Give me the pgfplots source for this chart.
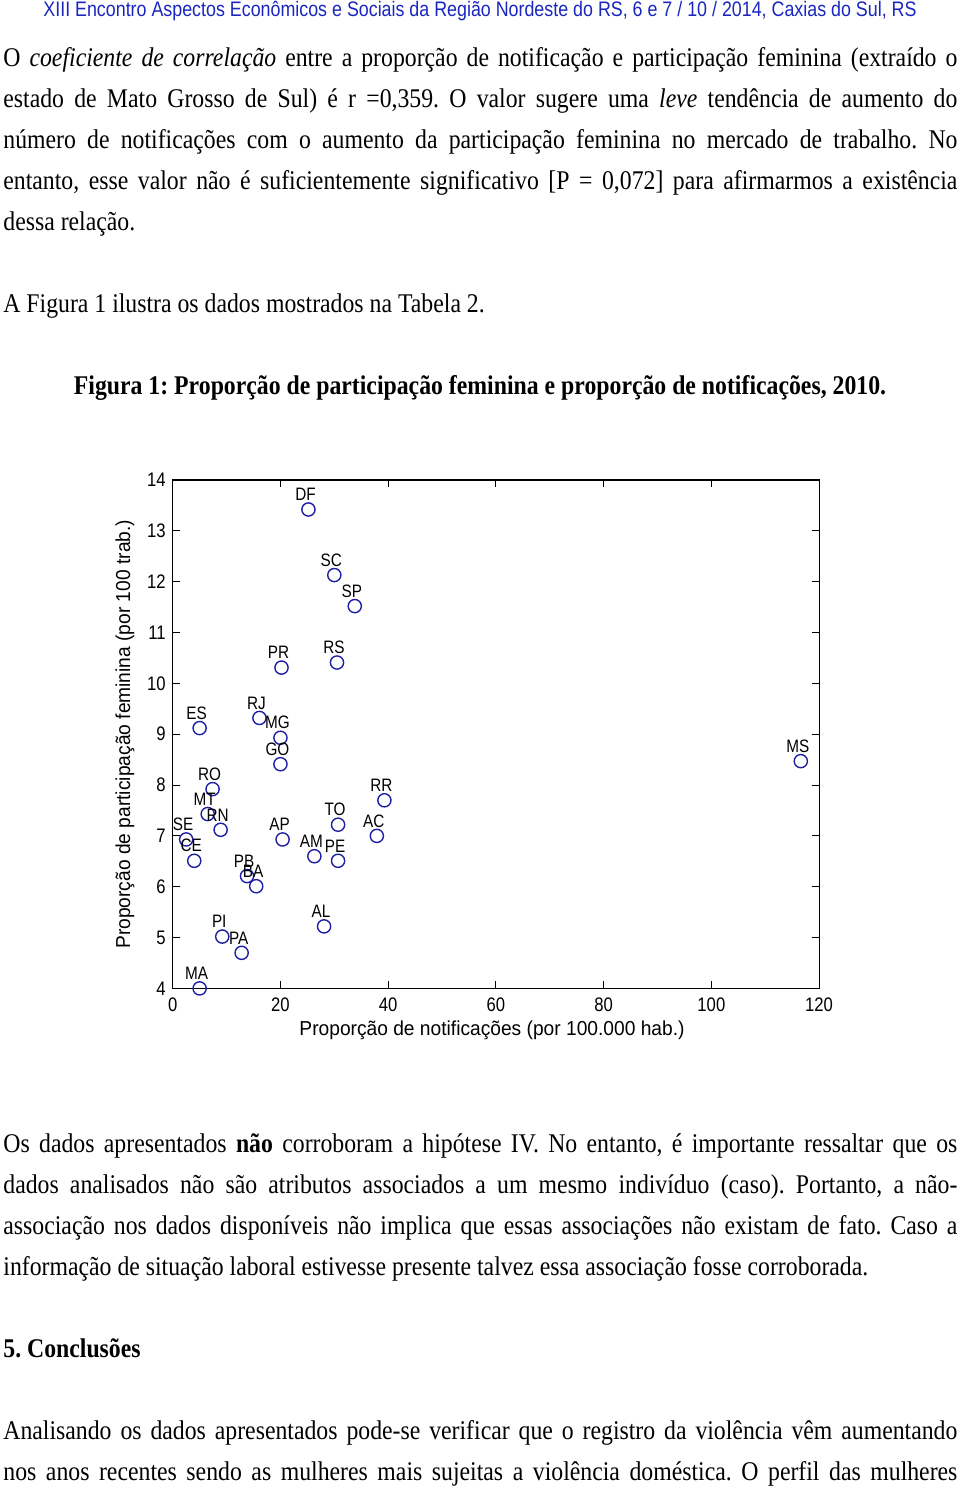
\documentclass[border=0pt]{standalone}
\usepackage{fontspec}
\setmainfont[FakeStretch=0.88]{Liberation Serif}
\newfontfamily\hdrfont[FakeStretch=0.85]{Liberation Sans}
\newfontfamily\tickfont[FakeStretch=0.85]{Liberation Sans}
\newfontfamily\labfont[FakeStretch=0.95]{Liberation Sans}
\usepackage{pgfplots}
\usepackage{pgfplotstable}
\pgfplotsset{compat=1.18}
\frenchspacing

\definecolor{hdrblue}{rgb}{0.1,0.15,0.75}
\definecolor{mblue}{rgb}{0.12,0.12,0.65}

% notificacoes (por 100.000 hab.) x participacao feminina (por 100 trab.)
\pgfplotstableread{
x     y     lab
25.2  13.42 DF
30.0  12.13 SC
33.8  11.52 SP
30.5  10.41 RS
20.2  10.31 PR
5.0   9.12  ES
16.1  9.32  RJ
20.0  8.93  MG
20.0  8.41  GO
7.4   7.92  RO
6.5   7.43  MT
8.9   7.12  RN
2.5   6.93  SE
4.0   6.51  CE
20.4  6.93  AP
26.3  6.60  AM
30.7  6.51  PE
30.7  7.22  TO
39.3  7.70  RR
37.9  7.00  AC
13.8  6.21  PB
15.5  6.01  BA
28.1  5.22  AL
9.2   5.02  PI
12.8  4.70  PA
5.0   4.00  MA
116.6 8.47  MS
}\ufdata

\newcommand{\body}{\fontsize{13.5}{16}\selectfont}
\newcommand{\jline}[3]{\node[anchor=base west, inner sep=0pt] at (#1,#2) {\body\makebox[477pt][s]{#3}};}
\newcommand{\lline}[3]{\node[anchor=base west, inner sep=0pt] at (#1,#2) {\body #3};}

\begin{document}
\begin{tikzpicture}
\begin{scope}[x=0.5pt, y=-0.5pt]
\path[use as bounding box] (0,0) rectangle (960,1486);
\node[anchor=base, inner sep=0pt, text=hdrblue] at (480,17)
  {\hdrfont\fontsize{10.5}{11}\selectfont XIII Encontro Aspectos Econômicos e Sociais da Região Nordeste do RS, 6 e 7 / 10 / 2014, Caxias do Sul, RS};
\jline{3}{67}{O \textit{coeficiente de correlação} entre a proporção de notificação e participação feminina (extraído o}
\jline{3}{108}{estado de Mato Grosso de Sul) é r =0,359. O valor sugere uma \textit{leve} tendência de aumento do}
\jline{3}{149}{número de notificações com o aumento da participação feminina no mercado de trabalho. No}
\jline{3}{190}{entanto, esse valor não é suficientemente significativo [P = 0,072] para afirmarmos a existência}
\lline{3}{231}{dessa relação.}
\lline{3}{313}{A Figura 1 ilustra os dados mostrados na Tabela 2.}
\node[anchor=base, inner sep=0pt] at (480,395)
  {\body\bfseries Figura 1: Proporção de participação feminina e proporção de notificações, 2010.};
\jline{3}{1152}{Os dados apresentados \textbf{não} corroboram a hipótese IV. No entanto, é importante ressaltar que os}
\jline{3}{1193}{dados analisados não são atributos associados a um mesmo indivíduo (caso). Portanto, a não-}
\jline{3}{1234}{associação nos dados disponíveis não implica que essas associações não existam de fato. Caso a}
\lline{3}{1275}{informação de situação laboral estivesse presente talvez essa associação fosse corroborada.}
\lline{3}{1357}{\textbf{5. Conclusões}}
\jline{3}{1439}{Analisando os dados apresentados pode-se verificar que o registro da violência vêm aumentando}
\jline{3}{1480}{nos anos recentes sendo as mulheres mais sujeitas a violência doméstica. O perfil das mulheres}
\coordinate (axnw) at (172.7,480);
\end{scope}
\begin{axis}[
    at={(axnw)}, anchor=north west,
    scale only axis, width=323.2pt, height=254.2pt,
    xmin=0, xmax=120, ymin=4, ymax=14,
    xtick={0,20,...,120}, ytick={4,5,...,14},
    tick align=inside, major tick length=3.5pt,
    axis line style={line width=0.6pt},
    tick style={line width=0.5pt, black},
    tick label style={font=\tickfont\fontsize{9.8}{10}\selectfont},
    /pgf/number format/assume math mode=true,
    xticklabel style={yshift=-1pt},
    xlabel={Proporção de notificações (por 100.000 hab.)},
    ylabel={Proporção de participação feminina (por 100 trab.)},
    every axis x label/.style={at={(axis description cs:0.494,-0.082)}, anchor=center,
      font=\labfont\fontsize{10.1}{11}\selectfont},
    every axis y label/.style={at={(axis description cs:-0.0738,0.5)}, rotate=90, anchor=center,
      font=\labfont\fontsize{10.1}{11}\selectfont},
  ]
  \addplot[only marks, mark=o, mark size=3.3pt, mark options={line width=0.7pt, draw=mblue},
    nodes near coords, point meta=explicit symbolic,
    every node near coord/.append style={font=\tickfont\fontsize{9}{9}\selectfont,
      anchor=south, inner sep=0pt, yshift=4pt, xshift=-1.5pt, black}]
    table[x=x, y=y, meta=lab] {\ufdata};
\end{axis}
\end{tikzpicture}
\end{document}
